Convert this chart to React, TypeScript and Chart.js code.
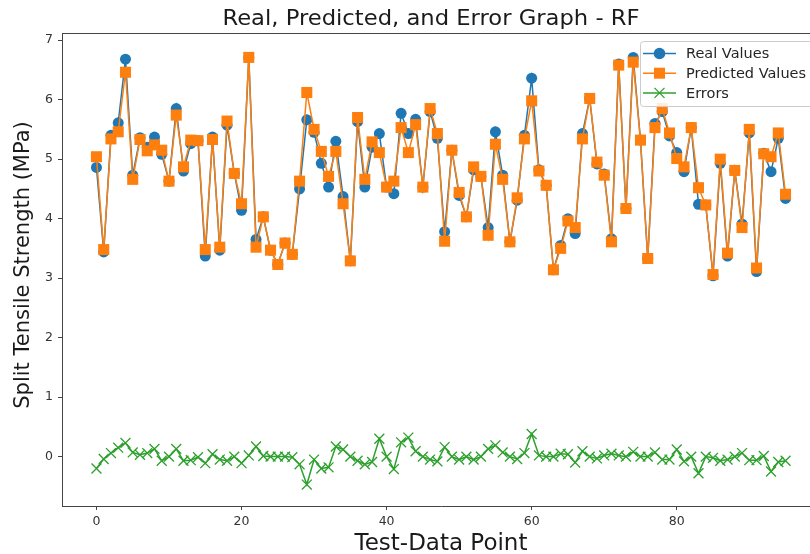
import React, { useEffect, useRef } from "react";
import { Chart, registerables } from "chart.js";

Chart.register(...registerables);

const TITLE = "Real, Predicted, and Error Graph - RF";
const X_TITLE = "Test-Data Point";
const Y_TITLE = "Split Tensile Strength (MPa)";
const SERIES_LABELS = ["Real Values", "Predicted Values", "Errors"];

const xTickValues = [0, 20, 40, 60, 80];
const yTickValues = [0, 1, 2, 3, 4, 5, 6, 7];

const realValues = [
  4.86, 3.44, 5.40, 5.61, 6.68, 4.73, 5.36, 5.20, 5.37, 5.08,
  4.63, 5.85, 4.80, 5.26, 5.31, 3.37, 5.37, 3.47, 5.57, 4.76,
  4.14, 6.71, 3.65, 4.03, 3.47, 3.23, 3.59, 3.40, 4.50, 5.66,
  5.45, 4.93, 4.53, 5.30, 4.37, 3.29, 5.63, 4.53, 5.20, 5.43,
  4.53, 4.42, 5.77, 5.43, 5.67, 4.53, 5.80, 5.35, 3.78, 5.15,
  4.39, 4.03, 4.82, 4.71, 3.85, 5.46, 4.73, 3.61, 4.31, 5.40,
  6.36, 4.82, 4.56, 3.14, 3.55, 4.00, 3.75, 5.43, 6.02, 4.92,
  4.75, 3.66, 6.60, 4.17, 6.71, 5.32, 3.33, 5.60, 5.80, 5.39,
  5.11, 4.79, 5.53, 4.24, 4.23, 3.04, 4.93, 3.37, 4.81, 3.91,
  5.44, 3.11, 5.10, 4.79, 5.35, 4.34,
];

const predictedValues = [
  5.04, 3.48, 5.34, 5.46, 6.46, 4.66, 5.33, 5.14, 5.24, 5.15,
  4.63, 5.74, 4.87, 5.32, 5.31, 3.48, 5.33, 3.52, 5.64, 4.76,
  4.25, 6.71, 3.52, 4.03, 3.47, 3.23, 3.59, 3.40, 4.63, 6.12,
  5.50, 5.13, 4.71, 5.13, 4.25, 3.29, 5.70, 4.66, 5.29, 5.11,
  4.53, 4.63, 5.53, 5.11, 5.58, 4.53, 5.85, 5.43, 3.62, 5.15,
  4.44, 4.03, 4.87, 4.71, 3.72, 5.25, 4.66, 3.61, 4.35, 5.34,
  5.98, 4.80, 4.56, 3.14, 3.50, 3.96, 3.85, 5.34, 6.02, 4.95,
  4.73, 3.61, 6.58, 4.17, 6.63, 5.32, 3.33, 5.53, 5.85, 5.44,
  5.01, 4.87, 5.53, 4.52, 4.23, 3.06, 5.00, 3.42, 4.81, 3.85,
  5.50, 3.17, 5.09, 5.04, 5.44, 4.41,
];

const errorValues = [
  -0.20, -0.04, 0.06, 0.15, 0.23, 0.07, 0.03, 0.06, 0.13, -0.07,
  0.00, 0.13, -0.07, -0.06, -0.01, -0.11, 0.04, -0.05, -0.07, 0.00,
  -0.11, 0.02, 0.17, 0.01, 0.00, 0.00, 0.00, -0.01, -0.13, -0.47,
  -0.05, -0.20, -0.18, 0.17, 0.12, 0.00, -0.07, -0.13, -0.09, 0.30,
  0.00, -0.21, 0.24, 0.32, 0.09, 0.00, -0.05, -0.08, 0.16, 0.00,
  -0.05, 0.00, -0.05, 0.00, 0.13, 0.19, 0.07, 0.00, -0.04, 0.06,
  0.38, 0.02, 0.00, 0.00, 0.05, 0.04, -0.10, 0.09, 0.00, -0.03,
  0.02, 0.05, 0.02, 0.00, 0.08, 0.00, 0.00, 0.07, -0.05, -0.05,
  0.12, -0.08, 0.00, -0.28, 0.00, -0.02, -0.07, -0.05, 0.00, 0.06,
  -0.06, -0.06, 0.01, -0.25, -0.09, -0.07,
];

const indices = realValues.map((_, i) => i);

const BLUE = "#1f77b4";
const ORANGE = "#ff7f0e";
const GREEN = "#2ca02c";
const FONT = "'DejaVu Sans', sans-serif";

function drawMarker(ctx: CanvasRenderingContext2D, style: string, x: number, y: number, color: string) {
  ctx.save();
  if (style === "circle") {
    ctx.fillStyle = color;
    ctx.beginPath();
    ctx.arc(x, y, 5.8, 0, Math.PI * 2);
    ctx.fill();
  } else if (style === "rect") {
    ctx.fillStyle = color;
    ctx.fillRect(x - 5.5, y - 5.5, 11, 11);
  } else {
    ctx.strokeStyle = color;
    ctx.lineWidth = 1.3;
    const d = 5;
    ctx.beginPath();
    ctx.moveTo(x - d, y - d);
    ctx.lineTo(x + d, y + d);
    ctx.moveTo(x - d, y + d);
    ctx.lineTo(x + d, y - d);
    ctx.stroke();
  }
  ctx.restore();
}

const decorPlugin = {
  id: "decor",
  afterDraw(chart: any) {
    const ctx: CanvasRenderingContext2D = chart.ctx;
    const a = chart.chartArea;
    ctx.save();
    // frame (top and right spines)
    ctx.strokeStyle = "#444";
    ctx.lineWidth = 1;
    ctx.beginPath();
    ctx.moveTo(a.left, a.top + 0.5);
    ctx.lineTo(a.right, a.top + 0.5);
    ctx.lineTo(a.right, a.bottom);
    ctx.stroke();
    // title
    ctx.fillStyle = "#1a1a1a";
    ctx.textAlign = "center";
    ctx.textBaseline = "alphabetic";
    ctx.save();
    ctx.translate(431, 25);
    ctx.scale(1.03, 1);
    ctx.font = `22px ${FONT}`;
    ctx.fillText(TITLE, 0, 0);
    ctx.restore();
    // x axis title
    ctx.font = `23px ${FONT}`;
    ctx.fillText(X_TITLE, 441, 550);
    // y axis title
    ctx.save();
    ctx.translate(29, 265);
    ctx.rotate(-Math.PI / 2);
    ctx.font = `21px ${FONT}`;
    ctx.fillText(Y_TITLE, 0, 0);
    ctx.restore();
    // legend
    const lx = 640, ly = 41, lw = 200, lh = 65;
    ctx.fillStyle = "rgba(255,255,255,0.85)";
    ctx.strokeStyle = "#cccccc";
    ctx.lineWidth = 1;
    ctx.beginPath();
    ctx.roundRect(lx + 0.5, ly + 0.5, lw, lh, 3);
    ctx.fill();
    ctx.stroke();
    const styles = ["circle", "rect", "crossRot"];
    const colors = [BLUE, ORANGE, GREEN];
    ctx.font = `14.5px ${FONT}`;
    ctx.textAlign = "left";
    ctx.textBaseline = "middle";
    SERIES_LABELS.forEach((label, i) => {
      const y = 53.5 + i * 19.7;
      ctx.strokeStyle = colors[i];
      ctx.lineWidth = 1.5;
      ctx.beginPath();
      ctx.moveTo(643, y);
      ctx.lineTo(676, y);
      ctx.stroke();
      drawMarker(ctx, styles[i], 659.5, y, colors[i]);
      ctx.fillStyle = "#262626";
      ctx.fillText(label, 686, y + 1);
    });
    ctx.restore();
  },
};

export default function App() {
  const canvasRef = useRef<HTMLCanvasElement | null>(null);

  useEffect(() => {
    if (!canvasRef.current) return;
    const mk = (vals: number[]) => indices.map((x, i) => ({ x, y: vals[i] }));
    const chart = new Chart(canvasRef.current, {
      type: "line",
      data: {
        datasets: [
          {
            label: SERIES_LABELS[0],
            data: mk(realValues),
            borderColor: BLUE,
            backgroundColor: BLUE,
            borderWidth: 1.5,
            pointStyle: "circle",
            pointRadius: 5.5,
            pointBorderWidth: 0,
            tension: 0,
            order: 3,
          },
          {
            label: SERIES_LABELS[1],
            data: mk(predictedValues),
            borderColor: ORANGE,
            backgroundColor: ORANGE,
            borderWidth: 1.5,
            pointStyle: "rect",
            pointRadius: 7.8,
            pointBorderWidth: 0,
            tension: 0,
            order: 2,
          },
          {
            label: SERIES_LABELS[2],
            data: mk(errorValues),
            borderColor: GREEN,
            backgroundColor: GREEN,
            borderWidth: 1.5,
            pointStyle: "crossRot",
            pointRadius: 7,
            pointBorderWidth: 1.3,
            tension: 0,
            order: 1,
          },
        ],
      },
      options: {
        animation: false,
        responsive: false,
        maintainAspectRatio: false,
        layout: { padding: { top: 33, right: 10, left: 0, bottom: 0 } },
        plugins: {
          legend: { display: false },
          title: { display: false },
          tooltip: { enabled: false },
        },
        scales: {
          x: {
            type: "linear",
            min: -4.75,
            max: 99.75,
            afterFit: (s: any) => { s.height = 48; },
            afterBuildTicks: (s: any) => { s.ticks = xTickValues.map((v) => ({ value: v })); },
            grid: { display: true, drawOnChartArea: false, drawTicks: true, tickLength: 4, tickColor: "#444" },
            border: { display: true, color: "#444", width: 1 },
            ticks: { font: { family: FONT, size: 12.5 }, color: "#333", padding: 4, maxRotation: 0 },
          },
          y: {
            type: "linear",
            min: -0.83,
            max: 7.12,
            afterFit: (s: any) => { s.width = 62; },
            afterBuildTicks: (s: any) => { s.ticks = yTickValues.map((v) => ({ value: v })); },
            grid: { display: true, drawOnChartArea: false, drawTicks: true, tickLength: 4, tickColor: "#444" },
            border: { display: true, color: "#444", width: 1 },
            ticks: { font: { family: FONT, size: 12.5 }, color: "#333", padding: 5 },
          },
        },
      },
      plugins: [decorPlugin],
    });
    return () => chart.destroy();
  }, []);

  return (
    <div style={{ position: "fixed", left: 0, top: 0, width: 810, height: 554, overflow: "hidden", background: "#fff" }}>
      <canvas ref={canvasRef} width={830} height={554} style={{ width: 830, height: 554, display: "block" }} />
    </div>
  );
}
